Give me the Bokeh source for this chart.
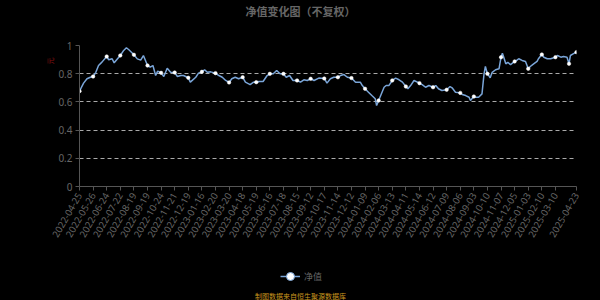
import numpy as np
from bokeh.plotting import figure
from bokeh.layouts import column
from bokeh.models import (Range1d, FixedTicker, Label, Legend, LegendItem, Title,
                          CustomJSTickFormatter, ColumnDataSource)
from bokeh.embed import file_html
from bokeh.resources import INLINE

# ---------------- data ----------------
title_text = "净值变化图（不复权）"
series_name = "净值"
y_unit = "元"
source_note = "制图数据来自恒生聚源数据库"

tick_idx = [0, 20, 40, 60, 80, 100, 120, 140, 160, 180, 200, 220, 240, 260, 280,
            300, 320, 340, 360, 380, 400, 420, 440, 460, 480, 500, 520, 540, 560,
            580, 600, 620, 640, 660, 680, 700, 731]
tick_dates = ["2022-04-25", "2022-05-26", "2022-06-24", "2022-07-22", "2022-08-19",
              "2022-09-19", "2022-10-24", "2022-11-21", "2022-12-19", "2023-01-16",
              "2023-02-20", "2023-03-20", "2023-04-18", "2023-05-19", "2023-06-16",
              "2023-07-18", "2023-08-15", "2023-09-12", "2023-10-17", "2023-11-14",
              "2023-12-12", "2024-01-09", "2024-02-06", "2024-03-13", "2024-04-11",
              "2024-05-14", "2024-06-12", "2024-07-09", "2024-08-06", "2024-09-03",
              "2024-10-10", "2024-11-07", "2024-12-05", "2025-01-03", "2025-02-10",
              "2025-03-10", "2025-04-23"]

# trading-day index of each reading, and the net value read at it
trade_idx = [0, 6, 11, 16, 20, 24, 28, 33, 40, 43, 48, 51, 55, 60, 65, 69, 73, 80,
             85, 90, 94, 100, 104, 108, 112, 115, 120, 124, 129, 134, 140, 144, 149,
             153, 160, 163, 171, 175, 180, 184, 188, 193, 200, 205, 210, 215, 220,
             224, 229, 234, 240, 244, 251, 256, 260, 264, 270, 276, 280, 285, 290,
             295, 300, 304, 309, 314, 320, 325, 330, 335, 340, 345, 352, 360, 364,
             369, 374, 380, 384, 389, 394, 400, 406, 413, 416, 420, 425, 430, 435,
             437, 440, 443, 448, 451, 455, 460, 465, 470, 475, 480, 483, 487, 492,
             500, 504, 509, 514, 520, 524, 528, 533, 540, 545, 548, 553, 560, 563,
             568, 573, 575, 580, 583, 587, 592, 595, 597, 600, 602, 604, 607, 612,
             617, 620, 622, 624, 627, 630, 634, 640, 643, 646, 651, 656, 660, 663,
             668, 673, 675, 680, 683, 688, 693, 700, 703, 708, 712, 717, 720, 722,
             726, 731]
nav = [0.676, 0.733, 0.764, 0.775, 0.780, 0.810, 0.858, 0.882, 0.922, 0.899, 0.906,
       0.877, 0.900, 0.929, 0.965, 0.984, 0.968, 0.934, 0.905, 0.896, 0.929, 0.858,
       0.846, 0.858, 0.787, 0.818, 0.806, 0.780, 0.839, 0.810, 0.808, 0.780, 0.787,
       0.787, 0.771, 0.740, 0.775, 0.804, 0.813, 0.828, 0.810, 0.813, 0.804, 0.787,
       0.775, 0.752, 0.738, 0.764, 0.775, 0.764, 0.775, 0.740, 0.723, 0.740, 0.740,
       0.745, 0.745, 0.787, 0.799, 0.799, 0.823, 0.800, 0.799, 0.775, 0.787, 0.752,
       0.752, 0.740, 0.757, 0.752, 0.764, 0.752, 0.769, 0.766, 0.733, 0.764, 0.775,
       0.775, 0.787, 0.794, 0.775, 0.769, 0.740, 0.740, 0.716, 0.693, 0.669, 0.645,
       0.622, 0.574, 0.610, 0.645, 0.704, 0.716, 0.716, 0.752, 0.769, 0.757, 0.740,
       0.709, 0.693, 0.716, 0.752, 0.733, 0.723, 0.704, 0.716, 0.704, 0.716, 0.693,
       0.681, 0.686, 0.709, 0.700, 0.669, 0.664, 0.653, 0.645, 0.633, 0.610, 0.638,
       0.633, 0.633, 0.657, 0.799, 0.851, 0.799, 0.787, 0.771, 0.810, 0.828, 0.835,
       0.917, 0.946, 0.917, 0.870, 0.880, 0.865, 0.887, 0.894, 0.906, 0.894, 0.887,
       0.835, 0.851, 0.870, 0.887, 0.906, 0.936, 0.917, 0.906, 0.906, 0.917, 0.929,
       0.917, 0.922, 0.917, 0.870, 0.929, 0.940, 0.953]

y_ticks = [0, 0.2, 0.4, 0.6, 0.8, 1]

# ---------------- styling ----------------
BG = "#000000"
LINE = "#7aa5d8"
GREY = "#666666"
AXIS = "#555555"
CJK = "Noto Sans CJK SC"
LEFT, RIGHT = 79, 24


def strip(h):
    # text strip whose data coordinates are canvas pixels (x) / pixels from bottom (y)
    f = figure(width=600, height=h, output_backend="svg", toolbar_location=None,
               x_range=Range1d(LEFT, 600 - RIGHT), y_range=Range1d(0, h),
               x_axis_location=None, y_axis_location=None, min_border=0,
               min_border_left=LEFT, min_border_right=RIGHT)
    f.background_fill_color = BG
    f.border_fill_color = BG
    f.outline_line_color = None
    f.grid.grid_line_color = None
    return f


# ---- top strip: title ----
top = strip(35)
top.add_layout(Label(x=300, y=24.5, text=title_text, text_align="center",
                     text_baseline="middle", text_color=GREY, text_font=CJK,
                     text_font_size="11px", text_font_style="bold"))

# ---- main chart ----
last = trade_idx[-1]
p = figure(width=600, height=220, output_backend="svg", toolbar_location=None,
           x_range=Range1d(0, last), y_range=Range1d(0, 1),
           min_border_left=LEFT, min_border_right=RIGHT, min_border_top=10,
           min_border_bottom=69)
p.background_fill_color = BG
p.border_fill_color = BG
p.outline_line_color = None

src = ColumnDataSource(dict(x=trade_idx, y=nav))
mk_x = [i for i in trade_idx if i % 20 == 0 or i == last]
mk_y = [v for i, v in zip(trade_idx, nav) if i % 20 == 0 or i == last]

p.line("x", "y", source=src, line_color=LINE, line_width=1.5)
p.scatter(mk_x, mk_y, size=3.5, fill_color="white", line_color="white", line_width=0.5)

p.xaxis.ticker = FixedTicker(ticks=tick_idx)
p.xaxis.major_label_overrides = {i: d for i, d in zip(tick_idx, tick_dates)}
p.xaxis.major_label_orientation = np.pi / 3
p.yaxis.ticker = FixedTicker(ticks=y_ticks)
p.yaxis.formatter = CustomJSTickFormatter(code="return tick.toString();")

for ax in (p.xaxis[0], p.yaxis[0]):
    ax.axis_line_color = AXIS
    ax.major_tick_line_color = AXIS
    ax.minor_tick_line_color = None
    ax.major_tick_out = 4
    ax.major_tick_in = 0
    ax.major_label_text_color = GREY
    ax.major_label_text_font = "Noto Sans"
    ax.major_label_standoff = 3
p.xaxis.major_label_text_font_size = "9.5px"
p.yaxis.major_label_text_font_size = "10px"

p.xgrid.grid_line_color = None
p.ygrid.grid_line_color = "#aaaaaa"
p.ygrid.grid_line_dash = "4 3"
p.ygrid.grid_line_width = 1

p.add_layout(Title(text=y_unit, align="right", offset=12, text_color="#8b1010",
                   text_font=CJK, text_font_size="7px", text_font_style="normal",
                   standoff=2), "left")

# ---- bottom strip: legend + source note ----
bot = strip(45)
# legend proxies (NaN data: nothing drawn, only the legend swatch)
leg_line = bot.line(x=[np.nan], y=[np.nan], line_color=LINE, line_width=1.5)
leg_mark = bot.scatter(x=[np.nan], y=[np.nan], size=9, fill_color="white",
                       line_color=LINE, line_width=1)
legend = Legend(items=[LegendItem(label=series_name, renderers=[leg_line, leg_mark])],
                location=(280 - LEFT, 13), orientation="horizontal",
                background_fill_alpha=0, border_line_color=None, padding=0, margin=0,
                glyph_width=20, glyph_height=22, label_height=22, label_standoff=4,
                label_text_color=GREY, label_text_font=CJK,
                label_text_font_size="9px")
bot.add_layout(legend)
bot.add_layout(Label(x=300, y=5, text=source_note, text_align="center",
                     text_baseline="middle", text_color="#c8961e", text_font=CJK,
                     text_font_size="7px"))

layout = column(top, p, bot, spacing=0, styles={"background-color": BG})
open("out.html", "w").write(file_html(layout, INLINE))
